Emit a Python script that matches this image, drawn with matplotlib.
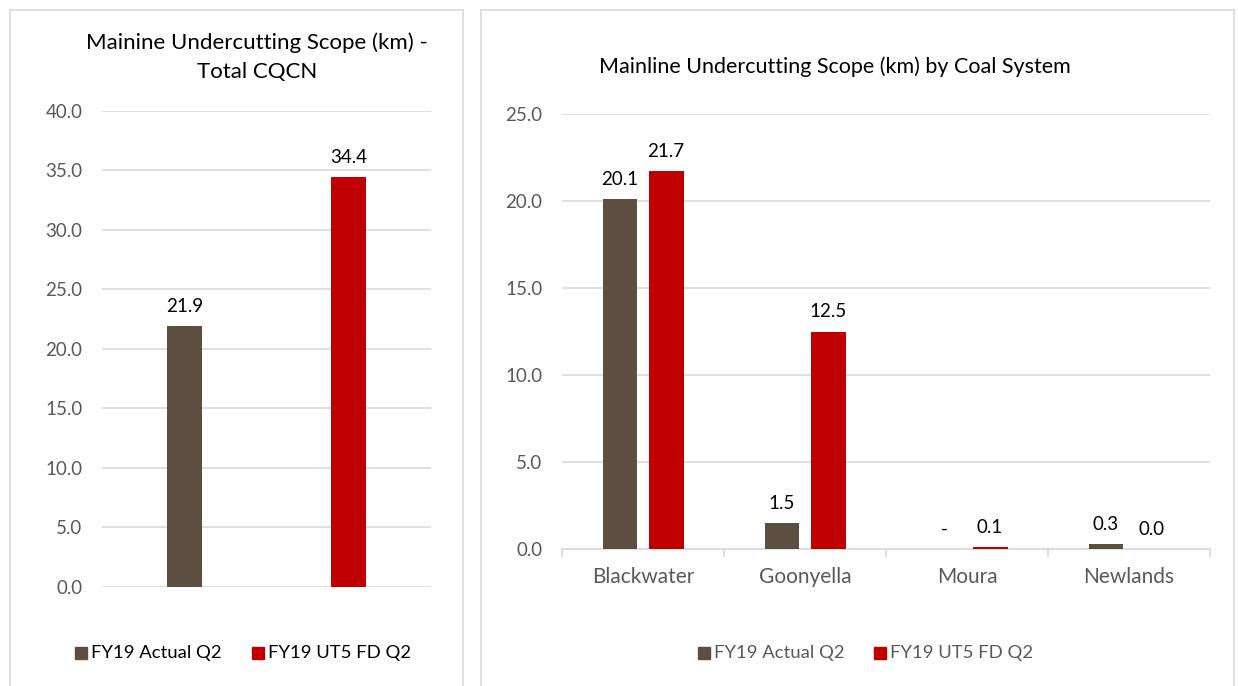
import numpy as np
import matplotlib.pyplot as plt
from matplotlib.patches import Rectangle

plt.rcParams['font.family'] = ['Lato', 'DejaVu Sans']

# data
series_names = ['FY19 Actual Q2', 'FY19 UT5 FD Q2']
total_values = [21.9, 34.4]
systems = ['Blackwater', 'Goonyella', 'Moura', 'Newlands']
actual_q2 = [20.1, 1.5, 0.0, 0.3]
ut5_fd_q2 = [21.7, 12.5, 0.1, 0.01]

BROWN = '#5c4f41'
RED = '#c00000'
GRID = '#d9d9d9'
TICK = '#595959'
W, H = 1238, 686


def fmt(v):
    # excel style: zero shows as dash
    return '-' if v == 0 else '{:.1f}'.format(v)


def fig_rect(x, y, w, h):
    return [x / W, 1 - (y + h) / H, w / W, h / H]


fig = plt.figure(figsize=(W / 100, H / 100), dpi=100)

# panel borders
for x0, x1 in [(10, 463), (481, 1234)]:
    fig.patches.append(Rectangle((x0 / W, -0.01), (x1 - x0) / W, 1 - 10 / H + 0.01,
                                 transform=fig.transFigure, fill=False,
                                 edgecolor=GRID, linewidth=1.2))

#################################################
## left chart - total
#################################################
ax1 = fig.add_axes(fig_rect(102, 110.6, 329, 476.4))
xs = np.arange(len(total_values))
ax1.bar(xs, total_values, width=0.213, color=[BROWN, RED], zorder=3)
for x, v in zip(xs, total_values):
    ax1.annotate(fmt(v), (x, v), xytext=(0, 8), textcoords='offset points',
                 ha='center', va='bottom', fontsize=13.5, color='black')
ax1.set_xlim(-0.5, 1.5)
ax1.set_ylim(0, 40)
ax1.set_yticks(np.arange(0, 40.1, 5))
ax1.set_yticklabels(['{:.1f}'.format(t) for t in np.arange(0, 40.1, 5)])
ax1.set_xticks([])
ax1.grid(axis='y', color=GRID, linewidth=1.2, zorder=0)
for s in ax1.spines.values():
    s.set_visible(False)
ax1.tick_params(axis='y', length=0, pad=14, labelsize=13.5, labelcolor=TICK)

fig.text(257 / W, 1 - 43 / H, 'Mainine Undercutting Scope (km) -', ha='center', va='center',
         fontsize=16, color='black')
fig.text(257 / W, 1 - 72 / H, 'Total CQCN', ha='center', va='center',
         fontsize=16, color='black')

# legend left
for lx, name, c in [(75, series_names[0], BROWN), (252, series_names[1], RED)]:
    fig.patches.append(Rectangle((lx / W, 1 - 659 / H), 12 / W, 12 / H,
                                 transform=fig.transFigure, color=c))
    fig.text((lx + 16) / W, 1 - 653 / H, name, ha='left', va='center',
             fontsize=13.3, color='black')

#################################################
## right chart - by coal system
#################################################
ax2 = fig.add_axes(fig_rect(562, 114, 648, 435))
xs = np.arange(len(systems))
off = 0.142
bw = 0.216
ax2.bar(xs - off, actual_q2, width=bw, color=BROWN, zorder=3)
ax2.bar(xs + off, ut5_fd_q2, width=bw, color=RED, zorder=3)
for x, v in zip(xs, actual_q2):
    ax2.annotate(fmt(v), (x - off, v), xytext=(0, 8), textcoords='offset points',
                 ha='center', va='bottom', fontsize=13.5, color='black')
for x, v in zip(xs, ut5_fd_q2):
    ax2.annotate(fmt(v), (x + off, v), xytext=(0, 8), textcoords='offset points',
                 ha='center', va='bottom', fontsize=13.5, color='black')
ax2.set_xlim(-0.5, len(systems) - 0.5)
ax2.set_ylim(0, 25)
ax2.set_yticks(np.arange(0, 25.1, 5))
ax2.set_yticklabels(['{:.1f}'.format(t) for t in np.arange(0, 25.1, 5)])
ax2.set_xticks(xs)
ax2.set_xticklabels(systems)
ax2.set_xticks(np.arange(-0.5, len(systems)), minor=True)
ax2.grid(axis='y', color=GRID, linewidth=1.2, zorder=0)
for k in ['top', 'right', 'left']:
    ax2.spines[k].set_visible(False)
ax2.spines['bottom'].set_color(GRID)
ax2.spines['bottom'].set_linewidth(1.2)
ax2.tick_params(axis='y', length=0, pad=14, labelsize=13.5, labelcolor=TICK)
ax2.tick_params(axis='x', which='major', length=0, pad=13, labelsize=15, labelcolor=TICK)
ax2.tick_params(axis='x', which='minor', length=6, width=1.2, color=GRID)

fig.text(835 / W, 1 - 67 / H, 'Mainline Undercutting Scope (km) by Coal System',
         ha='center', va='center', fontsize=15.5, color='black')

# legend right
for lx, name, c in [(698, series_names[0], BROWN), (874, series_names[1], RED)]:
    fig.patches.append(Rectangle((lx / W, 1 - 659 / H), 12 / W, 12 / H,
                                 transform=fig.transFigure, color=c))
    fig.text((lx + 16) / W, 1 - 653 / H, name, ha='left', va='center',
             fontsize=13.3, color=TICK)

fig.savefig('out.png', dpi=100)
